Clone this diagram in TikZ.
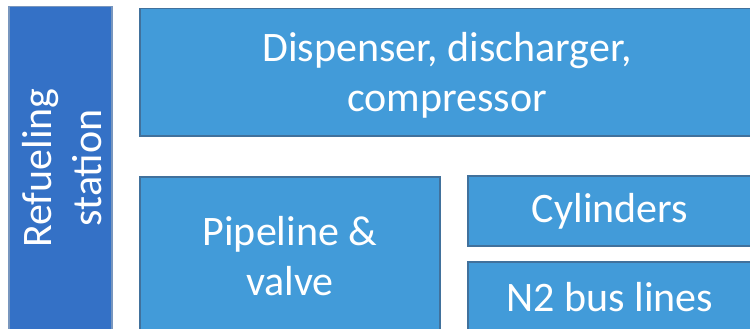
\documentclass[tikz,border=0pt]{standalone}
\usepackage{fontspec}
\setmainfont{Carlito}
\usepackage{xcolor}
\definecolor{stationblue}{RGB}{52,113,198}
\definecolor{stationedge}{RGB}{120,150,190}
\definecolor{partblue}{RGB}{66,155,217}
\definecolor{partedge}{RGB}{65,113,156}
\tikzset{
	partbox/.style={draw=partedge, line width=1.5pt, fill=partblue, anchor=north west, inner sep=0pt},
	stationbox/.style={draw=stationedge, line width=1.5pt, fill=stationblue, anchor=north west, inner sep=0pt},
	boxtext/.style={text=white, align=center, inner sep=0pt, font=\fontsize{42}{50}\selectfont}
}

\begin{document}
\begin{tikzpicture}[x=1pt,y=-1pt]
	\useasboundingbox (0,0) rectangle (750,329);
	\begin{scope}
	\clip (0,0) rectangle (750,329);
	\node[stationbox, minimum width=103pt, minimum height=340pt] (station) at (8,6) {};
	\node[partbox, minimum width=630pt, minimum height=127pt] (dispenser) at (139,8) {};
	\node[partbox, minimum width=300pt, minimum height=170pt] (pipeline) at (139,176) {};
	\node[partbox, minimum width=300pt, minimum height=70pt] (cylinders) at (467,175) {};
	\node[partbox, minimum width=300pt, minimum height=90pt] (busline) at (467,261) {};
	\end{scope}
	\node[boxtext, rotate=90] (stationtext) at (62,168) {Refueling\\station};
	\node[boxtext] (dispensertext) at (447,75) {Dispenser, discharger,\\compressor};
	\node[boxtext] (pipelinetext) at (290,256) {Pipeline \&\\valve};
	\node[boxtext] (cylinderstext) at (610,211) {Cylinders};
	\node[boxtext] (buslinetext) at (610,297) {N2 bus lines};
\end{tikzpicture}
\end{document}
